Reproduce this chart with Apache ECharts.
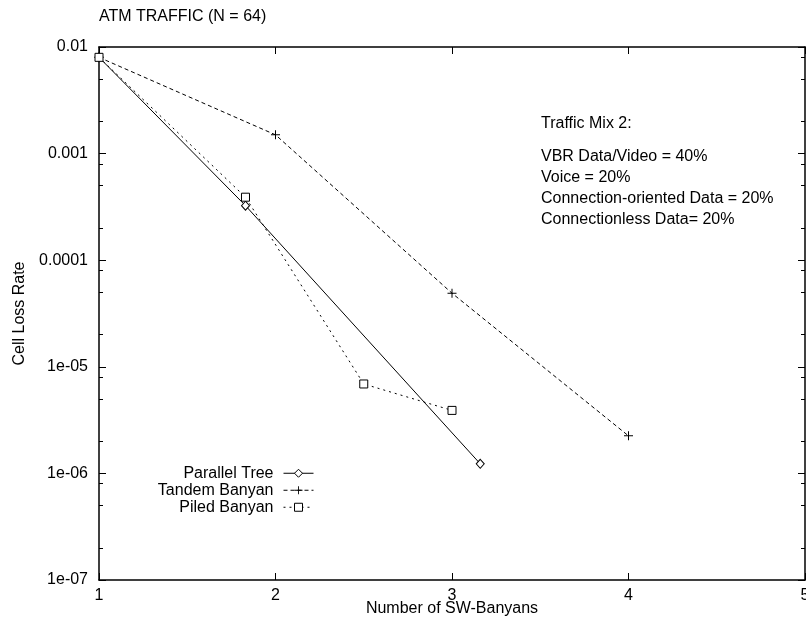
<!DOCTYPE html>
<html><head><meta charset="utf-8">
<script src="https://cdn.jsdelivr.net/npm/echarts@6/dist/echarts.min.js"></script>
<style>html,body{margin:0;padding:0;background:#fff}#c{width:806px;height:624px}</style>
</head><body><div id="c"></div>
<script>
// ---- data ----
const seriesNames = ['Parallel Tree', 'Tandem Banyan', 'Piled Banyan'];
const parallelTreeX = [1, 1.83, 3.16];
const parallelTreeY = [0.008, 3.25e-4, 1.23e-6];
const tandemBanyanX = [1, 2, 3, 4];
const tandemBanyanY = [0.008, 1.5e-3, 4.9e-5, 2.25e-6];
const piledBanyanX = [1, 1.83, 2.5, 3];
const piledBanyanY = [0.008, 3.9e-4, 6.9e-6, 3.9e-6];
const xTickLabels = ['1', '2', '3', '4', '5'];
const yTickValues = [1e-7, 1e-6, 1e-5, 1e-4, 1e-3, 1e-2];
const yTickLabels = ['1e-07', '1e-06', '1e-05', '0.0001', '0.001', '0.01'];
const yMinorMantissas = [2, 5, 8];
const titleText = 'ATM TRAFFIC (N = 64)';
const xName = 'Number of SW-Banyans';
const yName = 'Cell Loss Rate';
const noteTitle = 'Traffic Mix 2:';
const noteLines = ['VBR Data/Video = 40%', 'Voice = 20%', 'Connection-oriented Data = 20%', 'Connectionless Data= 20%'];

// ---- build ----
const FONT = '"Liberation Sans", Arial, Helvetica, sans-serif';
const FS = 16;
const TICK = '#000';
const pairs = (xs, ys) => xs.map((x, i) => [x, ys[i]]);
const yMinorExp = [];
for (let k = -7; k <= -3; k++) yMinorMantissas.forEach(m => yMinorExp.push(Math.log10(m * Math.pow(10, k))));
const yLabel = v => {
  let best = 0, bd = Infinity;
  yTickValues.forEach((t, i) => { const d = Math.abs(Math.log10(t) - Math.log10(v)); if (d < bd) { bd = d; best = i; } });
  return yTickLabels[best];
};
const plusPath = 'path://M4,0h1v4h4v1h-4v4h-1v-4h-4v-1h4z';

const chart = echarts.init(document.getElementById('c'), null, { renderer: 'canvas' });
const mkTick = len => ({ show: true, inside: true, length: len, lineStyle: { color: TICK, width: 1 } });
const baseY = { type: 'log', logBase: 10, min: 1e-7, max: 1e-2, interval: 1, splitLine: { show: false }, minorTick: { show: false } };
const minorY = () => ({ type: 'value', min: -7, max: -2, splitLine: { show: false }, axisLine: { show: false }, axisLabel: { show: false },
  axisTick: Object.assign(mkTick(4), { customValues: yMinorExp }) });
const axisLineStyle = () => ({ color: '#000', width: 1.5 });

const graphics = [{ type: 'text', left: 541, top: 125 - 9, style: { text: noteTitle, font: FS + 'px ' + FONT, fill: '#000' } }];
noteLines.forEach((t, i) => graphics.push({ type: 'text', left: 541, top: 158 + i * 21 - 9, style: { text: t, font: FS + 'px ' + FONT, fill: '#000' } }));

const legendLine = () => ({ color: '#000', width: 1 });
chart.setOption({
  backgroundColor: '#fff',
  animation: false,
  textStyle: { fontFamily: FONT, color: '#000' },
  title: { text: titleText, left: 99, top: 9, padding: 0, textStyle: { fontSize: FS, fontWeight: 'normal', color: '#000', fontFamily: FONT } },
  grid: { left: 99, right: 1, top: 47, bottom: 44, containLabel: false, outerBoundsMode: 'none' },
  legend: {
    orient: 'vertical', align: 'right', right: 492, top: 465, padding: 0, itemGap: 0.5,
    itemWidth: 30, itemHeight: 10,
    textStyle: { fontSize: FS, color: '#000', fontFamily: FONT, lineHeight: 16.5, padding: [0, 5, 0, 0] },
    data: [
      { name: seriesNames[0], itemStyle: { color: '#fff', borderColor: '#000', borderWidth: 1 }, lineStyle: Object.assign({ type: 'solid' }, legendLine()) },
      { name: seriesNames[1], itemStyle: { color: '#000', borderWidth: 0 }, lineStyle: Object.assign({ type: [4, 3] }, legendLine()) },
      { name: seriesNames[2], itemStyle: { color: '#fff', borderColor: '#000', borderWidth: 1 }, lineStyle: Object.assign({ type: [2, 4] }, legendLine()) }
    ]
  },
  xAxis: [
    { type: 'value', min: 1, max: 5, interval: 1, position: 'bottom',
      name: xName, nameLocation: 'middle', nameGap: 21, nameMoveOverlap: false, nameTextStyle: { fontSize: FS, color: '#000', fontFamily: FONT },
      axisLine: { show: true, lineStyle: axisLineStyle() }, splitLine: { show: false }, axisTick: mkTick(7),
      axisLabel: { fontSize: FS, color: '#000', margin: 8, formatter: v => xTickLabels[Math.round(v) - 1] } },
    { type: 'value', min: 1, max: 5, interval: 1, position: 'top',
      axisLine: { show: true, lineStyle: axisLineStyle() }, splitLine: { show: false }, axisTick: mkTick(7),
      axisLabel: { show: false } }
  ],
  yAxis: [
    Object.assign({}, baseY, { position: 'left',
      name: yName, nameLocation: 'middle', nameGap: 71, nameRotate: 90, nameTextStyle: { fontSize: FS, color: '#000', fontFamily: FONT },
      axisLine: { show: true, lineStyle: axisLineStyle() }, axisTick: mkTick(7),
      axisLabel: { fontSize: FS, color: '#000', margin: 11, padding: [3, 0, 0, 0], formatter: yLabel } }),
    Object.assign(minorY(), { position: 'left' }),
    Object.assign({}, baseY, { position: 'right',
      axisLine: { show: true, lineStyle: axisLineStyle() }, axisLabel: { show: false }, axisTick: mkTick(7) }),
    Object.assign(minorY(), { position: 'right' })
  ],
  graphic: graphics,
  series: [
    { name: seriesNames[0], type: 'line', data: pairs(parallelTreeX, parallelTreeY), clip: false,
      symbol: 'diamond', symbolSize: [8, 9], showAllSymbol: true,
      lineStyle: { color: '#000', width: 1, type: 'solid' },
      itemStyle: { color: '#fff', borderColor: '#000', borderWidth: 1 } },
    { name: seriesNames[1], type: 'line', data: pairs(tandemBanyanX, tandemBanyanY), clip: false,
      symbol: plusPath, symbolSize: 9, showAllSymbol: true,
      lineStyle: { color: '#000', width: 1, type: [4, 3] },
      itemStyle: { color: '#000', borderWidth: 0 } },
    { name: seriesNames[2], type: 'line', data: pairs(piledBanyanX, piledBanyanY), clip: false,
      symbol: 'rect', symbolSize: 8, showAllSymbol: true,
      lineStyle: { color: '#000', width: 1, type: [2, 4] },
      itemStyle: { color: '#fff', borderColor: '#000', borderWidth: 1 } }
  ]
});
</script></body></html>
